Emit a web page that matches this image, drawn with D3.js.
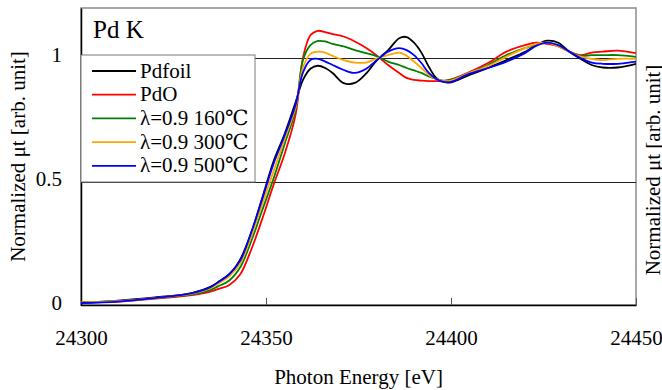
<!DOCTYPE html>
<html>
<head>
<meta charset="utf-8">
<script src="https://cdn.jsdelivr.net/npm/d3@7"></script>
<style>
    body { margin: 0; background: #fff; }
</style>
</head>
<body>
<div id="chart"></div>
<script>
// photon energy [eV]
var energy = [24300, 24310, 24320, 24330, 24335, 24337, 24340, 24343, 24346, 24349,
    24352, 24355, 24358, 24360, 24362, 24364, 24366, 24368, 24371, 24374,
    24377, 24380, 24383, 24386, 24388, 24390, 24392, 24394, 24396, 24398,
    24400, 24405, 24410, 24415, 24420, 24423, 24426, 24429, 24432, 24435,
    24438, 24441, 24445, 24450];

var pdfoil = [0.012, 0.02, 0.033, 0.05, 0.075, 0.094, 0.125, 0.185, 0.294, 0.435,
    0.58, 0.69, 0.82, 0.91, 0.955, 0.967, 0.958, 0.938, 0.897, 0.898,
    0.935, 0.99, 1.03, 1.078, 1.083, 1.06, 1.02, 0.963, 0.918, 0.902,
    0.9, 0.93, 0.958, 0.99, 1.023, 1.05, 1.068, 1.06, 1.023, 0.995,
    0.97, 0.96, 0.96, 0.975];

var pdo = [0.012, 0.016, 0.028, 0.042, 0.056, 0.066, 0.082, 0.125, 0.225, 0.35,
    0.485, 0.61, 0.77, 1.0, 1.09, 1.108, 1.103, 1.095, 1.085, 1.065,
    1.04, 1.008, 0.97, 0.938, 0.918, 0.91, 0.907, 0.905, 0.905, 0.905,
    0.912, 0.942, 0.978, 1.024, 1.05, 1.06, 1.055, 1.045, 1.024, 1.01,
    1.02, 1.024, 1.028, 1.018];

var t160 = [0.012, 0.018, 0.03, 0.045, 0.063, 0.077, 0.1, 0.153, 0.259, 0.385,
    0.51, 0.65, 0.79, 0.99, 1.05, 1.067, 1.065, 1.055, 1.045, 1.03,
    1.018, 1.005, 0.984, 0.97, 0.958, 0.948, 0.938, 0.924, 0.914, 0.907,
    0.91, 0.938, 0.97, 1.01, 1.038, 1.05, 1.06, 1.047, 1.024, 1.007,
    1.01, 1.01, 1.01, 1.003];

var t300 = [0.012, 0.018, 0.03, 0.048, 0.07, 0.088, 0.117, 0.169, 0.279, 0.41,
    0.54, 0.67, 0.80, 0.96, 1.015, 1.024, 1.02, 1.007, 0.99, 0.98,
    0.98, 0.997, 1.01, 1.02, 1.007, 0.984, 0.958, 0.93, 0.914, 0.905,
    0.907, 0.938, 0.966, 1.004, 1.038, 1.055, 1.06, 1.045, 1.024, 1.004,
    0.995, 0.99, 0.995, 0.995];

var t500 = [0.01, 0.016, 0.03, 0.05, 0.074, 0.093, 0.125, 0.18, 0.294, 0.43,
    0.57, 0.685, 0.81, 0.94, 0.99, 0.995, 0.984, 0.97, 0.95, 0.938,
    0.954, 0.99, 1.024, 1.038, 1.03, 1.01, 0.978, 0.938, 0.914, 0.902,
    0.902, 0.935, 0.958, 0.984, 1.018, 1.047, 1.06, 1.05, 1.024, 0.998,
    0.98, 0.975, 0.975, 0.984];

var seriesNames = ["Pdfoil", "PdO", "λ=0.9 160℃", "λ=0.9 300℃", "λ=0.9 500℃"];
var seriesValues = [pdfoil, pdo, t160, t300, t500];
var seriesColors = ["#000000", "#ff0000", "#008000", "#ffa500", "#0000ff"];

var xTicks = [24300, 24350, 24400, 24450];
var yTicks = [0, 0.5, 1];

var serif = "'Liberation Serif', 'Times New Roman', Times, 'DejaVu Serif', serif";

var margin = {top: 8, right: 26, bottom: 85, left: 81};
var fullWidth = 662, fullHeight = 390;
var width = fullWidth - margin.left - margin.right;
var height = fullHeight - margin.top - margin.bottom;

var svg = d3.select("#chart").append("svg")
    .attr("width", fullWidth)
    .attr("height", fullHeight)
    .style("font-family", serif);

var g = svg.append("g")
    .attr("transform", "translate(" + margin.left + "," + margin.top + ")");

var x = d3.scaleLinear().domain([24300, 24450]).range([0, width]);
var y = d3.scaleLinear().domain([0, 1.2]).range([height + 0.5, 0]);

// plot frame (grey top/right)
g.append("rect")
    .attr("width", width)
    .attr("height", height)
    .attr("fill", "#fff")
    .attr("stroke", "#8c8c8c")
    .attr("stroke-width", 1.5);

// gridlines
g.selectAll(".grid")
    .data([0.5, 1])
    .enter().append("line")
    .attr("class", "grid")
    .attr("x1", 0)
    .attr("x2", width)
    .attr("y1", function(d) { return Math.round(y(d)) + 0.5; })
    .attr("y2", function(d) { return Math.round(y(d)) + 0.5; })
    .attr("stroke", "#222")
    .attr("stroke-width", 1);

// x axis
var xAxis = g.append("g")
    .attr("transform", "translate(0," + height + ")")
    .call(d3.axisBottom(x).tickValues(xTicks).tickFormat(d3.format("d"))
        .tickSizeInner(-7).tickSizeOuter(0).tickPadding(25));
xAxis.attr("font-family", null).attr("font-size", null);
xAxis.select(".domain").attr("stroke", "#000").attr("stroke-width", 1.5);
xAxis.selectAll(".tick line").attr("stroke", "#555").attr("stroke-width", 1);
xAxis.selectAll(".tick text").style("font-size", "21px").style("font-family", serif);

// y axis
var yAxis = g.append("g")
    .call(d3.axisLeft(y).tickValues(yTicks).tickFormat(d3.format("")).tickSize(0).tickPadding(19));
yAxis.attr("font-family", null).attr("font-size", null);
yAxis.select(".domain").attr("stroke", "#000").attr("stroke-width", 1.5);
yAxis.selectAll(".tick text").style("font-size", "21px").style("font-family", serif)
    .attr("dy", "0.2em");

// curves
g.append("clipPath").attr("id", "plotClip")
    .append("rect").attr("width", width).attr("height", height);

var line = d3.line()
    .x(function(d) { return x(d[0]); })
    .y(function(d) { return y(d[1]); })
    .curve(d3.curveCatmullRom);

g.append("g").attr("clip-path", "url(#plotClip)")
    .selectAll(".curve")
    .data(seriesValues)
    .enter().append("path")
    .attr("class", "curve")
    .attr("fill", "none")
    .attr("stroke", function(d, i) { return seriesColors[i]; })
    .attr("stroke-width", 1.8)
    .attr("stroke-linejoin", "round")
    .attr("d", function(vals) {
        return line(energy.map(function(e, i) { return [e, vals[i]]; }));
    });

// title
g.append("text")
    .attr("x", 12)
    .attr("y", 29.5)
    .style("font-size", "25px")
    .style("font-family", serif)
    .text("Pd K");

// legend
var legend = g.append("g").attr("transform", "translate(0,47)");
legend.append("rect")
    .attr("width", 174)
    .attr("height", 127)
    .attr("fill", "#fff")
    .attr("stroke", "#7a7a7a")
    .attr("stroke-width", 1);

var item = legend.selectAll(".item")
    .data(seriesNames)
    .enter().append("g")
    .attr("class", "item")
    .attr("transform", function(d, i) { return "translate(0," + (16 + i * 23.7) + ")"; });

item.append("line")
    .attr("x1", 11).attr("x2", 55)
    .attr("stroke", function(d, i) { return seriesColors[i]; })
    .attr("stroke-width", 1.8);

item.append("text")
    .attr("x", 59)
    .attr("y", 6.5)
    .style("font-size", "21px")
    .style("font-family", serif)
    .text(function(d) { return d; });

// axis titles
svg.append("text")
    .attr("x", margin.left + width / 2)
    .attr("y", 384)
    .attr("text-anchor", "middle")
    .style("font-size", "21px")
    .style("font-family", serif)
    .text("Photon Energy [eV]");

svg.append("text")
    .attr("transform", "translate(25," + (margin.top + height / 2) + ") rotate(-90)")
    .attr("text-anchor", "middle")
    .style("font-size", "21px")
    .style("font-family", serif)
    .text("Normalized μt [arb. unit]");

// neighbouring chart's label, cut by the edge
svg.append("text")
    .attr("transform", "translate(660,170) rotate(-90)")
    .attr("text-anchor", "middle")
    .style("font-size", "21px")
    .style("font-family", serif)
    .text("Normalized μt [arb. unit]");
</script>
</body>
</html>
